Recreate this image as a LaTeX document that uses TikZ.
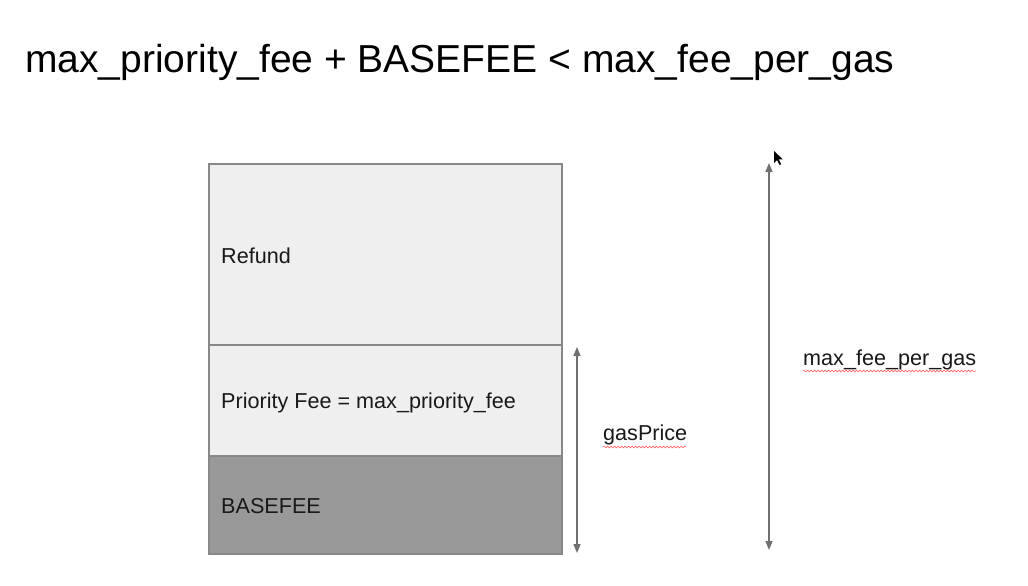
\documentclass[tikz,border=0pt]{standalone}
\usepackage{fontspec}
\setmainfont{Liberation Sans}
\usetikzlibrary{arrows.meta,decorations.pathmorphing}
\definecolor{lightfill}{HTML}{EFEFEF}
\definecolor{darkfill}{HTML}{999999}
\definecolor{edgegray}{HTML}{888888}
\definecolor{arrowgray}{HTML}{707070}
\begin{document}
\begin{tikzpicture}[x=1pt,y=-1pt,
  band/.style={draw=edgegray,line width=1.2pt,minimum width=353pt,inner sep=0pt,anchor=north west,outer sep=0pt},
  bodytext/.style={font=\fontsize{21.6}{26}\selectfont,inner sep=0pt,anchor=base west,text=black!90},
  dim/.style={draw=arrowgray,line width=1.4pt,{Triangle[length=9pt,width=7pt]}-{Triangle[length=9pt,width=7pt]}},
  squiggle/.style={draw=red!70!white,line width=0.5pt,decorate,decoration={snake,amplitude=0.9pt,segment length=3.5pt}}]
\useasboundingbox (0,0) rectangle (1028,586);
\fill[white] (0,0) rectangle (1028,586);
% title
\node[inner sep=0pt,anchor=base west,font=\fontsize{39}{46}\selectfont] (title) at (25,73) {max\_priority\_fee + BASEFEE < max\_fee\_per\_gas};
% stacked bands
\node[band,fill=lightfill,minimum height=181pt] (refund) at (209,164) {};
\node[band,fill=lightfill,minimum height=111pt] (prio) at (209,345) {};
\node[band,fill=darkfill,minimum height=98pt] (base) at (209,456) {};
\node[bodytext] (trefund) at (221,263) {Refund};
\node[bodytext] (tprio) at (221,408) {Priority Fee = max\_priority\_fee};
\node[bodytext] (tbase) at (221,513) {BASEFEE};
% gasPrice dimension
\coordinate (gpTop) at (577,347);
\coordinate (gpBot) at (577,553);
\draw[dim] (gpBot) -- (gpTop);
\node[bodytext] (tgas) at (603,440) {gasPrice};
\coordinate (sqA1) at (603,447);
\coordinate (sqA2) at (686,447);
\draw[squiggle] (sqA1) -- (sqA2);
% max_fee_per_gas dimension
\coordinate (mfTop) at (769,163);
\coordinate (mfBot) at (769,550);
\draw[dim] (mfBot) -- (mfTop);
\node[bodytext] (tmax) at (803,365) {max\_fee\_per\_gas};
\coordinate (sqB1) at (803,371);
\coordinate (sqB2) at (976,371);
\draw[squiggle] (sqB1) -- (sqB2);
% mouse pointer
\coordinate (cur) at (774,151);
\fill[black] (cur) -- ++(0,12) -- ++(3,-3) -- ++(2.5,5) -- ++(1.6,-0.8) -- ++(-2.4,-4.8) -- ++(4.2,0) -- cycle;
\end{tikzpicture}
\end{document}
